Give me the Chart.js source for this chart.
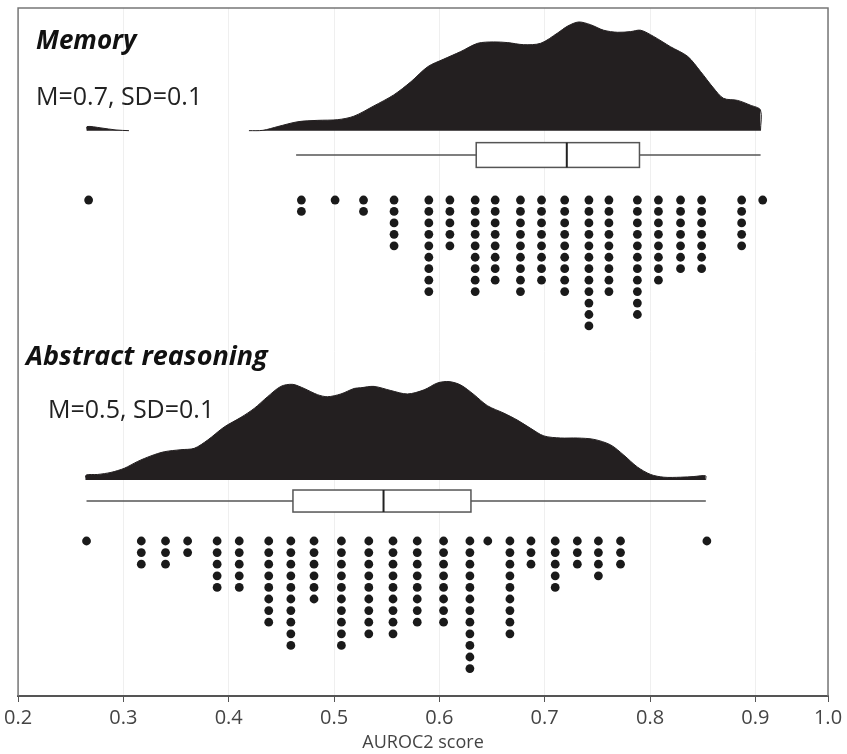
<!DOCTYPE html>
<html>
<head>
<meta charset="utf-8">
<script src="https://cdn.jsdelivr.net/npm/chart.js@4.4.1/dist/chart.umd.min.js"></script>
<style>
  html, body { margin: 0; padding: 0; background: #fff; }
  #wrap { width: 847px; height: 754px; }
</style>
</head>
<body>
<div id="wrap"><canvas id="rainChart" width="847" height="754"></canvas></div>
<script>
// dot plot columns: AUROC2 bin value and how many participants fall in it
const memoryDotX = [0.267, 0.469, 0.501, 0.528, 0.557, 0.590, 0.610, 0.634, 0.653, 0.677,
                    0.697, 0.719, 0.742, 0.761, 0.788, 0.808, 0.829, 0.849, 0.887, 0.907];
const memoryDotCount = [1, 2, 1, 2, 5, 9, 5, 9, 8, 9, 8, 9, 12, 9, 11, 8, 7, 7, 5, 1];

const abstractDotX = [0.265, 0.317, 0.340, 0.361, 0.389, 0.410, 0.438, 0.459, 0.481, 0.507,
                      0.533, 0.556, 0.579, 0.604, 0.629, 0.646, 0.667, 0.687, 0.710, 0.731,
                      0.751, 0.772, 0.854];
const abstractDotCount = [1, 3, 3, 2, 5, 5, 8, 10, 6, 10, 9, 9, 8, 8, 12, 1, 9, 3, 5, 3, 4, 3, 1];

// density outlines (x, height above panel baseline); null = no density there
const memoryDensityX = [0.2655, 0.2655, 0.2787, 0.293, 0.3053, 0.36,
                        0.4192, 0.4325, 0.4467, 0.4657, 0.4846, 0.5036, 0.5188, 0.5378, 0.5567, 0.5729,
                        0.5890, 0.6042, 0.6203, 0.6364, 0.6516, 0.6649, 0.6801, 0.6962, 0.7123, 0.7218,
                        0.7323, 0.7436, 0.7560, 0.7692, 0.7816, 0.7911, 0.8034, 0.8195, 0.8357, 0.8480,
                        0.8603, 0.8698, 0.8831, 0.8954, 0.9049, 0.9049];
const memoryDensityH = [0, 0.6, 0.4, 0.1, 0, null,
                        0, 0.05, 0.6, 1.3, 1.5, 1.6, 2.1, 3.6, 5.2, 7.1,
                        9.3, 10.4, 11.5, 12.7, 12.9, 12.8, 12.5, 12.7, 14.2, 15.2,
                        15.8, 15.4, 14.6, 14.3, 14.4, 14.6, 13.7, 12.2, 10.8, 8.6,
                        6.2, 4.7, 4.4, 3.7, 3.0, 0];

const abstractDensityX = [0.2645, 0.2645, 0.2756, 0.2882, 0.3009, 0.3136, 0.3262, 0.3388, 0.3546, 0.3673,
                          0.3800, 0.3957, 0.4116, 0.4242, 0.4369, 0.4495, 0.4606, 0.4716, 0.4843, 0.4938,
                          0.5065, 0.5191, 0.5254, 0.5380, 0.5539, 0.5697, 0.5855, 0.5982, 0.6092, 0.6203,
                          0.6329, 0.6456, 0.6614, 0.6741, 0.6867, 0.6993, 0.7152, 0.7310, 0.7468, 0.7626,
                          0.7752, 0.7879, 0.8006, 0.8132, 0.8290, 0.8417, 0.8528, 0.8528];
const abstractDensityH = [0, 0.7, 0.8, 1.1, 1.7, 2.7, 3.5, 4.1, 4.4, 4.6,
                          5.8, 7.7, 9.1, 10.4, 12.1, 13.6, 13.9, 13.3, 12.4, 12.1,
                          12.5, 13.3, 13.4, 13.6, 13.0, 12.5, 13.1, 14.1, 14.3, 13.8,
                          12.4, 10.8, 9.7, 8.7, 7.5, 6.4, 6.1, 6.1, 5.9, 5.1,
                          3.6, 1.9, 0.8, 0.4, 0.4, 0.5, 0.6, 0];

// box plots: lower whisker, q1, median, q3, upper whisker
const memoryBox = [0.464, 0.635, 0.721, 0.790, 0.905];
const abstractBox = [0.265, 0.461, 0.547, 0.630, 0.853];

const panelTitles = ['Memory', 'Abstract reasoning'];
const panelStats = ['M=0.7, SD=0.1', 'M=0.5, SD=0.1'];

const xTicks = [0.2, 0.3, 0.4, 0.5, 0.6, 0.7, 0.8, 0.9];
const xMax = 0.969;          // right edge of the frame, labelled 1.0 in the figure
const lastTickLabel = '1.0';
const xTitle = 'AUROC2 score';

// panel layout in y units (0 = axis, 100 = top of frame)
const panels = [
  { base: 82.17, boxY: 78.63, boxHalf: 1.8, dotTop: 72.09, dotStep: 1.664,
    titleX: 36, titleY: 42, titleSize: 26, statX: 36, statY: 98 },
  { base: 31.40, boxY: 28.34, boxHalf: 1.6, dotTop: 22.53, dotStep: 1.686,
    titleX: 26, titleY: 357, titleSize: 27, statX: 48, statY: 411 }
];

function densityPoints(xs, hs, base) {
  return xs.map(function(x, i) {
    return { x: x, y: hs[i] === null ? null : base + hs[i] };
  });
}

function dotPoints(xs, counts, p) {
  const pts = [];
  xs.forEach(function(x, i) {
    for (let r = 0; r < counts[i]; r++) {
      pts.push({ x: x, y: p.dotTop - r * p.dotStep });
    }
  });
  return pts;
}

const fillColor = '#231f20';

function densitySet(xs, hs, p) {
  return {
    type: 'line',
    data: densityPoints(xs, hs, p.base),
    backgroundColor: fillColor,
    borderColor: fillColor,
    borderWidth: 1,
    pointRadius: 0,
    tension: 0.3,
    spanGaps: false,
    fill: { value: p.base },
    order: 2
  };
}

function dotSet(xs, counts, p) {
  return {
    type: 'scatter',
    data: dotPoints(xs, counts, p),
    backgroundColor: '#1a1a1a',
    borderColor: '#1a1a1a',
    borderWidth: 0,
    pointRadius: 4.4,
    order: 1
  };
}

const boxes = [memoryBox, abstractBox];

const extras = {
  id: 'raincloudExtras',
  afterDatasetsDraw: function(chart) {
    const ctx = chart.ctx;
    const xs = chart.scales.x;
    const ys = chart.scales.y;
    ctx.save();
    boxes.forEach(function(b, i) {
      const p = panels[i];
      const yc = ys.getPixelForValue(p.boxY);
      const yt = ys.getPixelForValue(p.boxY + p.boxHalf);
      const yb = ys.getPixelForValue(p.boxY - p.boxHalf);
      ctx.strokeStyle = '#555';
      ctx.lineWidth = 1.5;
      ctx.beginPath();
      ctx.moveTo(xs.getPixelForValue(b[0]), yc);
      ctx.lineTo(xs.getPixelForValue(b[4]), yc);
      ctx.stroke();
      const x1 = xs.getPixelForValue(b[1]);
      const x3 = xs.getPixelForValue(b[3]);
      ctx.fillStyle = '#fff';
      ctx.fillRect(x1, yt, x3 - x1, yb - yt);
      ctx.strokeRect(x1, yt, x3 - x1, yb - yt);
      ctx.strokeStyle = '#222';
      ctx.lineWidth = 2;
      ctx.beginPath();
      ctx.moveTo(xs.getPixelForValue(b[2]), yt);
      ctx.lineTo(xs.getPixelForValue(b[2]), yb);
      ctx.stroke();
    });

    ctx.textBaseline = 'middle';
    ctx.textAlign = 'left';
    panels.forEach(function(p, i) {
      ctx.fillStyle = '#111';
      ctx.font = 'italic bold ' + p.titleSize + 'px "Open Sans"';
      ctx.fillText(panelTitles[i], p.titleX, p.titleY);
      ctx.font = '25px "Open Sans"';
      ctx.fillStyle = '#222';
      ctx.fillText(panelStats[i], p.statX, p.statY);
    });

    const a = chart.chartArea;
    ctx.strokeStyle = '#777';
    ctx.lineWidth = 1.5;
    ctx.beginPath();
    ctx.moveTo(a.left, a.bottom);
    ctx.lineTo(a.left, a.top);
    ctx.lineTo(a.right, a.top);
    ctx.lineTo(a.right, a.bottom);
    ctx.stroke();
    ctx.restore();
  }
};

const ctx = document.getElementById('rainChart').getContext('2d');
const chart = new Chart(ctx, {
  data: {
    datasets: [
      densitySet(memoryDensityX, memoryDensityH, panels[0]),
      densitySet(abstractDensityX, abstractDensityH, panels[1]),
      dotSet(memoryDotX, memoryDotCount, panels[0]),
      dotSet(abstractDotX, abstractDotCount, panels[1])
    ]
  },
  options: {
    responsive: false,
    animation: false,
    devicePixelRatio: 1,
    layout: { padding: { left: 17, right: 19, top: 8, bottom: 0 } },
    plugins: {
      legend: { display: false },
      tooltip: { enabled: false }
    },
    scales: {
      x: {
        type: 'linear',
        min: 0.2,
        max: xMax,
        afterBuildTicks: function(scale) {
          scale.ticks = xTicks.concat([xMax]).map(function(v) { return { value: v }; });
        },
        afterFit: function(scale) { scale.height = 58; },
        grid: { color: '#efefef', lineWidth: 1, drawTicks: true, tickLength: 6, tickColor: '#555' },
        border: { color: '#555', width: 2 },
        ticks: {
          padding: 4,
          autoSkip: false,
          maxRotation: 0,
          color: '#444',
          font: { family: 'Open Sans', size: 20 },
          callback: function(v) { return v === xMax ? lastTickLabel : Number(v).toFixed(1); }
        },
        title: {
          display: true,
          text: xTitle,
          color: '#444',
          font: { family: 'Open Sans', size: 18 },
          padding: { top: 0, bottom: 0 }
        }
      },
      y: { display: false, min: 0, max: 100 }
    }
  },
  plugins: [extras]
});
</script>
</body>
</html>
